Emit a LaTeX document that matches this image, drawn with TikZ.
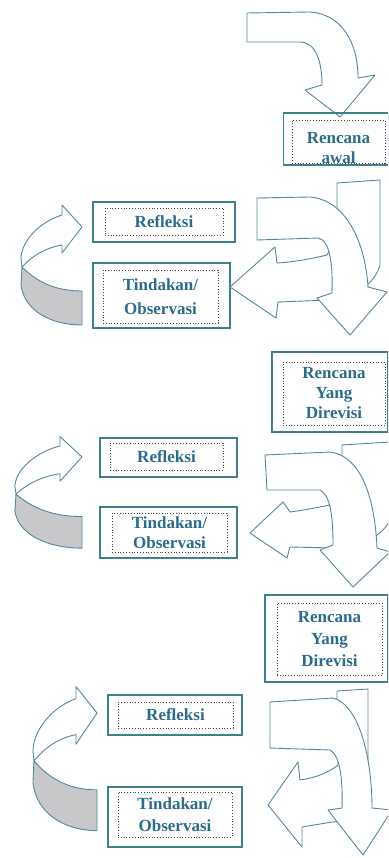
\documentclass[tikz,border=0pt]{standalone}
\usepackage{fontspec}
\setmainfont{Liberation Serif}
\usetikzlibrary{positioning}
\definecolor{frameteal}{RGB}{62,128,142}
\definecolor{textteal}{RGB}{42,108,138}
\definecolor{arrowline}{RGB}{85,135,155}
\definecolor{ribbongray}{RGB}{200,200,202}

\begin{document}
\begin{tikzpicture}[x=1pt, y=-1pt,
  frame/.style={draw=frameteal, line width=1.4pt, rectangle, inner sep=0pt},
  dotbox/.style={draw=black!75, dotted, line width=0.8pt, rectangle, inner sep=0pt, align=center,
    font=\bfseries\fontsize{17}{20}\selectfont, text=textteal},
  boxtext/.style={inner sep=0pt, align=center, font=\bfseries\fontsize{17}{20}\selectfont, text=textteal},
  bigarrow/.style={draw=arrowline, line width=0.9pt, fill=white, line join=round},
  underside/.style={draw=arrowline, line width=0.9pt, fill=ribbongray, line join=round},
  ribbon/.pic={
    \draw[underside] (-60,40) .. controls (-42,58) and (-22,64) .. (0,64) -- (0,98)
      .. controls (-32,98) and (-58,83) .. (-61,58) -- cycle;
    \draw[bigarrow] (-20,-12) .. controls (-42,-5) and (-60,13) .. (-61,31) -- (-60,40)
      .. controls (-50,29) and (-37,21) .. (-20,18) -- (-20,26) -- (0,0) -- (-20,-22) -- cycle;
  }]
\clip (0,0) rectangle (388,858);

% start
\draw[bigarrow] (247,13) -- (310,12) .. controls (340,14) and (358,40) .. (358,78) -- (375,75)
  -- (340,117) -- (305,90) -- (322,85) .. controls (322,60) and (315,42) .. (300,42) -- (247,42) -- cycle;
\node[frame, minimum width=105pt, minimum height=52pt] (awalFrame) at (336,139) {};
\node[dotbox, minimum width=93pt, minimum height=43pt] (awalBox) at (338.5,141.5) {};
\node[boxtext] (awal) at (338.5,148) {Rencana\\awal};

% cycle 1
\pic at (82,227) {ribbon};
\node[frame, minimum width=142pt, minimum height=40pt] (refFrameA) at (164,222) {};
\node[dotbox, minimum width=118pt, minimum height=27pt] (refA) at (164,221.5) {Refleksi};
\node[frame, minimum width=137pt, minimum height=65pt] (actFrameA) at (161.5,295.5) {};
\node[dotbox, minimum width=115pt, minimum height=53pt] (actA) at (160.5,296.5) {Tindakan/\\[4pt]Observasi};
\draw[bigarrow] (337,183) -- (380,180) -- (380,265) .. controls (375,285) and (350,300) .. (330,300)
  -- (278,302) -- (276,318) -- (230,287) -- (275,247) -- (277,263)
  .. controls (295,262) and (315,258) .. (327,255) .. controls (335,240) and (337,225) .. (337,210) -- cycle;
\draw[bigarrow] (257,198) -- (310,197) .. controls (345,200) and (365,240) .. (368,287) -- (387,292)
  -- (350,335) -- (317,298) -- (332,293) .. controls (333,265) and (330,240) .. (318,238) -- (257,240) -- cycle;
\node[frame, minimum width=116pt, minimum height=80pt] (revFrameA) at (330,392) {};
\node[dotbox, minimum width=102pt, minimum height=63pt] (revA) at (334,393.5) {Rencana\\Yang\\Direvisi};

% cycle 2
\pic[xscale=1.1, yscale=0.93] at (82,457) {ribbon};
\node[frame, minimum width=137pt, minimum height=39pt] (refFrameB) at (168.5,457.5) {};
\node[dotbox, minimum width=113pt, minimum height=27pt] (refB) at (166.5,456.5) {Refleksi};
\node[frame, minimum width=137pt, minimum height=51pt] (actFrameB) at (168.5,532.5) {};
\node[dotbox, minimum width=115pt, minimum height=39pt] (actB) at (169.5,532.5) {Tindakan/\\Observasi};
\draw[bigarrow] (342,445) -- (390,442) -- (390,520) .. controls (380,540) and (355,548) .. (335,548)
  -- (290,547) -- (287,558) -- (250,533) -- (283,502) -- (290,512)
  .. controls (305,510) and (320,507) .. (330,505) .. controls (337,490) and (342,475) .. (342,460) -- cycle;
\draw[bigarrow] (265,455) -- (330,452) .. controls (362,456) and (375,500) .. (377,548) -- (390,552)
  -- (353,587) -- (320,550) -- (333,545) .. controls (333,515) and (330,495) .. (320,490) -- (267,490) -- cycle;
\node[frame, minimum width=123pt, minimum height=87pt] (revFrameB) at (326.5,638.5) {};
\node[dotbox, minimum width=105pt, minimum height=72pt] (revB) at (329.5,639) {Rencana\\[2pt]Yang\\[2pt]Direvisi};

% cycle 3
\pic[xscale=1.05, yscale=1.2] at (97,713) {ribbon};
\node[frame, minimum width=134pt, minimum height=40pt] (refFrameC) at (175,715) {};
\node[dotbox, minimum width=115pt, minimum height=26pt] (refC) at (175.5,715) {Refleksi};
\node[frame, minimum width=134pt, minimum height=60pt] (actFrameC) at (175,817) {};
\node[dotbox, minimum width=114pt, minimum height=45pt] (actC) at (175,814.5) {Tindakan/\\[2pt]Observasi};
\draw[bigarrow] (337,691) -- (368,689) -- (368,805) .. controls (360,818) and (345,822) .. (332,822)
  -- (302,827) -- (302,847) -- (268,805) -- (298,762) -- (300,780)
  .. controls (315,778) and (330,772) .. (338,765) .. controls (338,740) and (337,720) .. (337,705) -- cycle;
\draw[bigarrow] (270,702) -- (333,698) .. controls (360,705) and (372,760) .. (372,808) -- (392,810)
  -- (363,855) -- (328,810) -- (342,808) .. controls (343,780) and (340,755) .. (330,750) -- (270,748) -- cycle;
\end{tikzpicture}
\end{document}
